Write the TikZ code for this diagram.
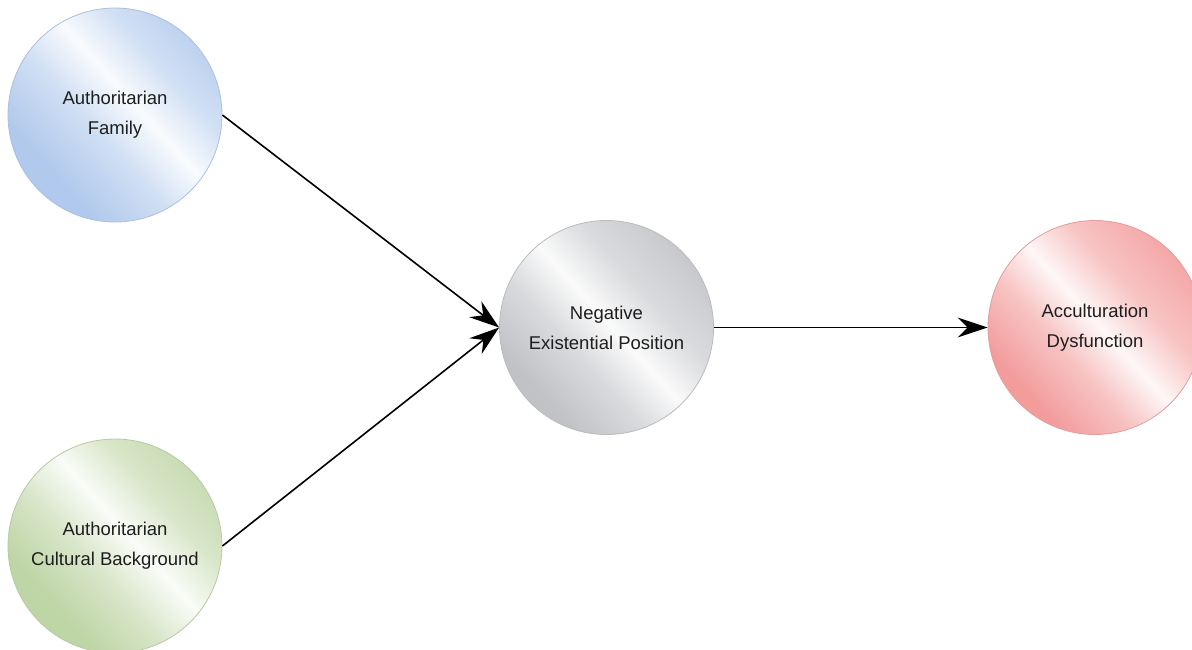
\documentclass[tikz,border=0pt]{standalone}
\usepackage{fontspec}
\setmainfont{Liberation Sans}
\usetikzlibrary{arrows.meta}
\definecolor{bluec}{RGB}{176,201,236}
\definecolor{greenc}{RGB}{190,213,165}
\definecolor{greyc}{RGB}{192,194,198}
\definecolor{redc}{RGB}{243,156,156}
\definecolor{txt}{RGB}{30,30,30}
\pgfdeclarehorizontalshading{blueglass}{100bp}{color(0bp)=(bluec); color(30bp)=(bluec); color(44bp)=(bluec!60); color(55bp)=(white!92!bluec); color(66bp)=(bluec!60); color(82bp)=(bluec); color(100bp)=(bluec)}
\pgfdeclarehorizontalshading{greenglass}{100bp}{color(0bp)=(greenc); color(30bp)=(greenc); color(43bp)=(greenc!60); color(54bp)=(white!92!greenc); color(65bp)=(greenc!60); color(82bp)=(greenc); color(100bp)=(greenc)}
\pgfdeclarehorizontalshading{greyglass}{100bp}{color(0bp)=(greyc); color(28bp)=(greyc); color(41bp)=(greyc!60); color(51bp)=(white!92!greyc); color(62bp)=(greyc!60); color(80bp)=(greyc); color(100bp)=(greyc)}
\pgfdeclarehorizontalshading{redglass}{100bp}{color(0bp)=(redc); color(28bp)=(redc); color(41bp)=(redc!60); color(51bp)=(white!92!redc); color(62bp)=(redc!60); color(80bp)=(redc); color(100bp)=(redc)}
\tikzset{
  bubble/.style={circle, minimum size=214pt, inner sep=0pt, line width=0.8pt,
    shading angle=42, align=center, text=txt,
    font=\fontsize{18.5}{30}\selectfont},
  bluebubble/.style={bubble, shading=blueglass, draw=bluec!90!black!85},
  greenbubble/.style={bubble, shading=greenglass, draw=greenc!90!black!85},
  greybubble/.style={bubble, shading=greyglass, draw=greyc!90!black!85},
  redbubble/.style={bubble, shading=redglass, draw=redc!90!black!85},
  arr/.style={line width=1.6pt, draw=black,
    -{Stealth[length=30pt, width=20pt, inset=10pt]}}
}
\begin{document}
\begin{tikzpicture}[x=1pt, y=-1pt]
\useasboundingbox (0,0) rectangle (1192,649);
\node[bluebubble] (af) at (115,115) {Authoritarian\\Family};
\node[greenbubble] (ac) at (115,546) {Authoritarian\\Cultural Background};
\node[greybubble] (nep) at (606.5,327.5) {Negative\\Existential Position};
\node[redbubble] (ad) at (1095,327.5) {Acculturation\\Dysfunction};
\draw[arr] (af.east) -- (nep.west);
\draw[arr] (ac.east) -- (nep.west);
\draw[arr] (nep.east) -- (ad.west);
\end{tikzpicture}
\end{document}
